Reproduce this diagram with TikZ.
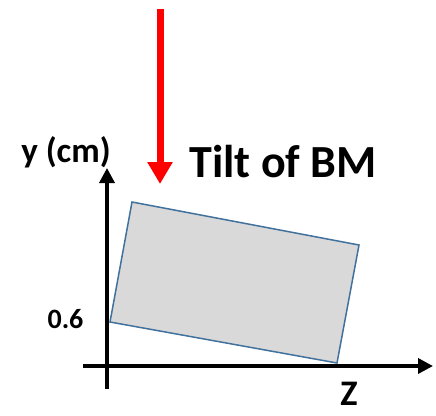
\documentclass[tikz,border=0pt]{standalone}
\usepackage{fontspec}
\setmainfont{Carlito}
\usetikzlibrary{arrows.meta}
\definecolor{boxfill}{HTML}{D9D9D9}
\definecolor{boxline}{HTML}{41719C}
\definecolor{redarrow}{HTML}{FF0000}
\tikzset{
  lbl/.style={inner sep=0pt, anchor=base, font=\bfseries},
  axis/.style={line width=3.5pt, -{Triangle[width=15pt,length=15pt]}},
  tiltbox/.style={fill=boxfill, draw=boxline, line width=1.5pt, line join=miter},
  pointer/.style={draw=redarrow, line width=7pt, -{Triangle[width=24pt,length=22pt]}}
}
\begin{document}
\begin{tikzpicture}[x=1pt,y=-1pt]
\useasboundingbox (0,0) rectangle (436,415);
% rectangle corners
\coordinate (tl) at (132,202);
\coordinate (tr) at (359,245);
\coordinate (br) at (337,363);
\coordinate (bl) at (110,322);
\filldraw[tiltbox] (tl) -- (tr) -- (br) -- (bl) -- cycle;
% axes
\coordinate (ybot) at (107,389);
\coordinate (ytop) at (107,168);
\coordinate (zleft) at (83,366);
\coordinate (zright) at (433,366);
\draw[axis] (ybot) -- (ytop);
\draw[axis] (zleft) -- (zright);
% red arrow
\coordinate (rtop) at (160,9);
\coordinate (rtip) at (160,184);
\draw[pointer] (rtop) -- (rtip);
% labels
\node[lbl, font=\bfseries\fontsize{35}{40}\selectfont] (ylab) at (66,162) {y (cm)};
\node[lbl, font=\bfseries\fontsize{46}{52}\selectfont] (title) at (283,177) {Tilt of BM};
\node[lbl, font=\bfseries\fontsize{28}{32}\selectfont] (val) at (65.5,328) {0.6};
\node[lbl, font=\bfseries\fontsize{36}{40}\selectfont] (zlab) at (349,405) {Z};
\end{tikzpicture}
\end{document}
